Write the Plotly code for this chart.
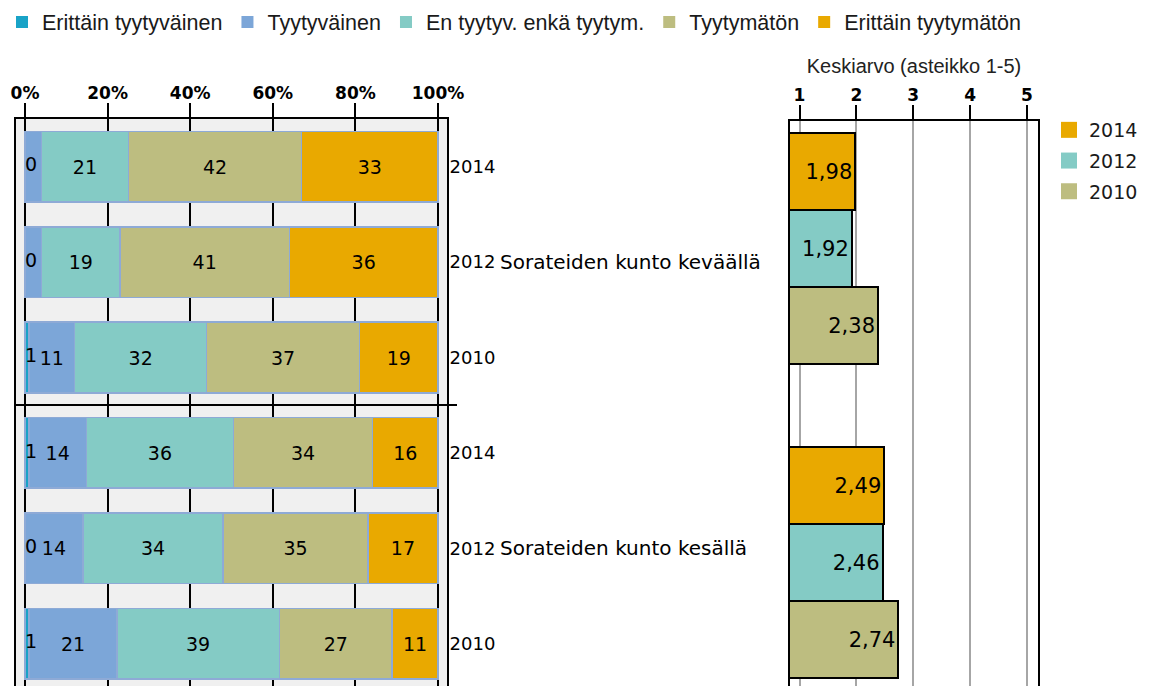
import plotly.graph_objects as go

W, H = 1158, 686

# ---------------- data ----------------
SERIES = ["Erittäin tyytyväinen", "Tyytyväinen", "En tyytyv. enkä tyytym.",
          "Tyytymätön", "Erittäin tyytymätön"]
COLORS = ["#19a3c7", "#7ca6d8", "#84cbc5", "#bdbd80", "#e9a900"]

GROUPS = ["Sorateiden kunto keväällä", "Sorateiden kunto kesällä"]
YEARS = ["2014", "2012", "2010"]

erittain_tyytyvainen = [0, 0, 1, 1, 0, 1]
tyytyvainen = [4, 4, 11, 14, 14, 21]
en_tyytyv_enka_tyytym = [21, 19, 32, 36, 34, 39]
tyytymaton = [42, 41, 37, 34, 35, 27]
erittain_tyytymaton = [33, 36, 19, 16, 17, 11]

keskiarvo_kevat = [1.98, 1.92, 2.38]   # 2014, 2012, 2010
keskiarvo_kesa = [2.49, 2.46, 2.74]    # 2014, 2012, 2010
YEAR_COLORS = ["#e9a900", "#84cbc5", "#bdbd80"]

PCT_TICKS = [0, 20, 40, 60, 80, 100]
SCALE_TICKS = [1, 2, 3, 4, 5]

# ---------------- layout helpers ----------------
def fx(px):
    return px / W

def fy(py):
    return 1 - py / H

BAR_FONT = dict(family="DejaVu Sans", size=19, color="black")
TICK_FONT = dict(family="DejaVu Sans", size=17, color="black", weight="bold")

fig = go.Figure()

# ---------------- left panel: 100 % stacked bars ----------------
values = [erittain_tyytyvainen, tyytyvainen, en_tyytyv_enka_tyytym,
          tyytymaton, erittain_tyytymaton]
n_rows = len(GROUPS) * len(YEARS)
row_pos = list(range(n_rows))
row_labels = [y for _ in GROUPS for y in YEARS]
row_sums = [sum(v[i] for v in values) for i in range(n_rows)]

for s, (name, vals, col) in enumerate(zip(SERIES, values, COLORS)):
    shares = [v * 100.0 / row_sums[i] for i, v in enumerate(vals)]
    if s == 0:
        text = None
    else:
        text = [str(v) if v >= 5 else "" for v in vals]
    fig.add_trace(go.Bar(
        x=shares, y=row_pos, orientation="h", name=name,
        marker=dict(color=col, line=dict(color="#8eaad6", width=1.5)),
        width=0.74, text=text, textposition="inside",
        insidetextanchor="middle", textangle=0, textfont=BAR_FONT,
        constraintext="none", showlegend=False, hoverinfo="skip",
        xaxis="x", yaxis="y"))

# labels of the tiny first segment, at the start of each row
fig.add_trace(go.Scatter(
    x=[0] * n_rows, y=row_pos, mode="text",
    text=[str(v) for v in erittain_tyytyvainen],
    textposition="middle right", textfont=BAR_FONT,
    showlegend=False, hoverinfo="skip", xaxis="x", yaxis="y"))

# legend entries (top legend)
for name, col in zip(SERIES, COLORS):
    fig.add_trace(go.Scatter(
        x=[None], y=[None], mode="markers", name=name,
        marker=dict(symbol="square", size=12, color=col),
        legend="legend", xaxis="x", yaxis="y"))

# ---------------- right panel: averages ----------------
GROUP_STEP = 4.08
for k, (year, col) in enumerate(zip(YEARS, YEAR_COLORS)):
    vals = [keskiarvo_kevat[k], keskiarvo_kesa[k]]
    ypos = [g * GROUP_STEP + (k - 1) for g in range(len(GROUPS))]
    fig.add_trace(go.Bar(
        x=vals, y=ypos, orientation="h", name=year,
        marker=dict(color=col, line=dict(color="black", width=2)),
        width=1.0,
        text=[f"{v:.2f}".replace(".", ",") for v in vals],
        textposition="inside", insidetextanchor="end", textangle=0,
        textfont=dict(family="DejaVu Sans", size=21, color="black"),
        constraintext="none", showlegend=False, hoverinfo="skip",
        xaxis="x2", yaxis="y2"))
    fig.add_trace(go.Scatter(
        x=[None], y=[None], mode="markers", name=year,
        legendgroup=year,
        marker=dict(symbol="square", size=16, color=col),
        legend="legend2", xaxis="x2", yaxis="y2"))

# group labels on the left panel
for g, gname in enumerate(GROUPS):
    fig.add_annotation(
        x=fx(498), xref="paper", xanchor="left",
        y=g * len(YEARS) + (len(YEARS) - 1) / 2, yref="y", yanchor="middle",
        text=gname, showarrow=False,
        font=dict(family="DejaVu Sans", size=20, color="black"))

# gray plot background of left panel
fig.add_shape(type="rect", xref="x domain", yref="y domain",
              x0=0, x1=1, y0=0, y1=1, fillcolor="#f0f0f0",
              line=dict(width=0), layer="below")

fig.update_layout(
    width=W, height=H,
    margin=dict(l=0, r=0, t=0, b=0, autoexpand=False),
    paper_bgcolor="white", plot_bgcolor="white",
    barmode="stack",
    font=dict(family="DejaVu Sans", color="black"),
    xaxis=dict(
        domain=[fx(16), fx(447)], range=[-2.18, 102.18], side="top",
        tickmode="array", tickvals=PCT_TICKS,
        ticktext=[f"{t}%" for t in PCT_TICKS], tickfont=TICK_FONT,
        ticklabelstandoff=-3,
        ticks="outside", ticklen=14, tickwidth=2, tickcolor="black",
        showline=True, linecolor="black", linewidth=2,
        showgrid=True, gridcolor="black", gridwidth=2, zeroline=False,
        fixedrange=True),
    yaxis=dict(
        domain=[0, fy(119)], range=[5.443, -0.5], side="right",
        tickmode="array", tickvals=row_pos, ticktext=row_labels,
        tickfont=dict(family="DejaVu Sans", size=18, color="black"),
        ticklabelstandoff=-3,
        ticks="", showline=True, mirror=True, linecolor="black", linewidth=2,
        showgrid=False, zeroline=False,
        minor=dict(tickmode="array", tickvals=[2.5], showgrid=True,
                   gridcolor="black", gridwidth=2, ticks="outside",
                   ticklen=8, tickwidth=2, tickcolor="black"),
        fixedrange=True),
    xaxis2=dict(
        domain=[fx(790), fx(1038)], range=[0.833, 5.193], side="top",
        anchor="y2",
        tickmode="array", tickvals=SCALE_TICKS,
        ticktext=[str(t) for t in SCALE_TICKS], tickfont=TICK_FONT,
        ticklabelstandoff=-3,
        ticks="outside", ticklen=14, tickwidth=2, tickcolor="black",
        showline=True, linecolor="black", linewidth=2,
        showgrid=True, gridcolor="#a6a6a6", gridwidth=2, zeroline=False,
        title=dict(text="Keskiarvo (asteikko 1-5)", standoff=6,
                   font=dict(family="Liberation Sans", size=20, color="#222")),
        fixedrange=True),
    yaxis2=dict(
        domain=[0, fy(121)], range=[5.682, -1.656], anchor="x2",
        showticklabels=False, ticks="", showline=True, mirror=True,
        linecolor="black", linewidth=2, showgrid=False, zeroline=False,
        fixedrange=True),
    legend=dict(
        orientation="h", x=fx(2), xanchor="left", y=fy(22), yanchor="middle",
        traceorder="normal", bgcolor="rgba(0,0,0,0)",
        font=dict(family="Liberation Sans", size=21.5, color="#1a1a1a")),
    legend2=dict(
        orientation="v", x=fx(1049), xanchor="left", y=fy(111), yanchor="top",
        traceorder="grouped", tracegroupgap=3, bgcolor="rgba(0,0,0,0)",
        font=dict(family="DejaVu Sans", size=19, color="#1a1a1a")),
)

fig.write_html("out.html",
               config={"displayModeBar": False},
               post_script="document.body.style.margin='0px';")
